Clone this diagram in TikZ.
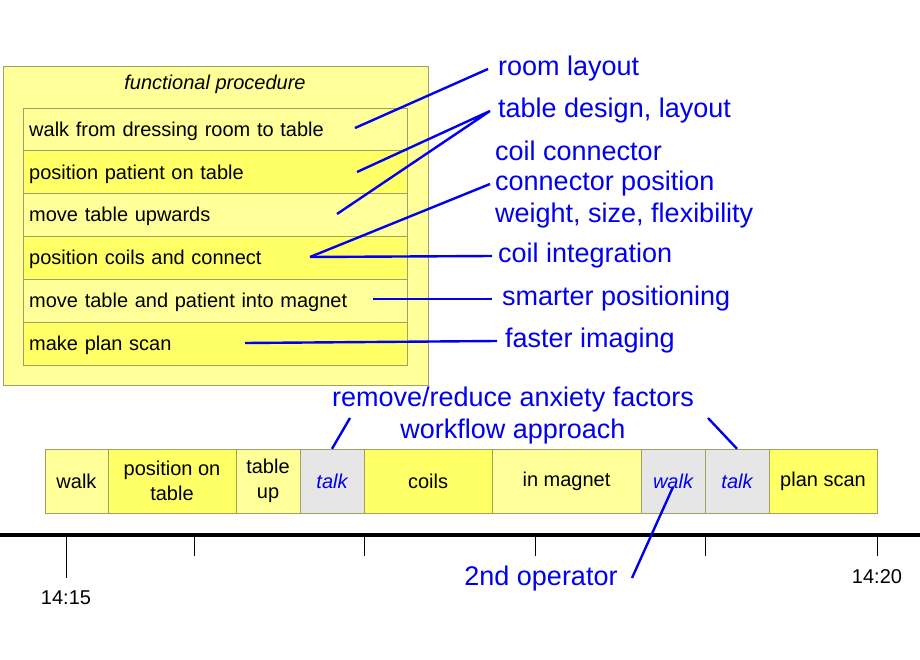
\documentclass[tikz,border=0pt]{standalone}
\usepackage{fontspec}
\setmainfont{Liberation Sans}
\definecolor{lyel}{HTML}{FFFF99}
\definecolor{dyel}{HTML}{FFFF66}
\definecolor{tgray}{HTML}{E6E6E6}
\definecolor{bord}{HTML}{A0A060}
\definecolor{note}{HTML}{0000EE}
\begin{document}
\begin{tikzpicture}[x=1pt,y=-1pt,
    task/.style={draw=bord, anchor=north west, minimum height=43pt, text width=384pt, inner sep=0pt, align=left, font=\fontsize{20}{23}\selectfont, text depth=0pt},
    slot/.style={draw=bord, minimum height=64pt, inner sep=0pt, align=center, font=\fontsize{20}{25}\selectfont},
    rem/.style={text=note, anchor=west, inner sep=0pt, font=\fontsize{27}{30}\selectfont},
    link/.style={note, line width=2.4pt}]
  \useasboundingbox (0,0) rectangle (920,660);
  % functional procedure
  \draw[bord, fill=lyel] (3,66) rectangle (428,385);
  \node[font=\fontsize{20}{23}\selectfont\itshape] (title) at (215,84) {functional procedure};
  \node[task, fill=lyel] (s1) at (23,108) {\hspace*{6pt}walk from dressing room to table};
  \node[task, fill=dyel] (s2) at (23,150.5) {\hspace*{6pt}position patient on table};
  \node[task, fill=lyel] (s3) at (23,193) {\hspace*{6pt}move table upwards};
  \node[task, fill=dyel] (s4) at (23,236) {\hspace*{6pt}position coils and connect};
  \node[task, fill=lyel] (s5) at (23,279) {\hspace*{6pt}move table and patient into magnet};
  \node[task, fill=dyel] (s6) at (23,321.5) {\hspace*{6pt}make plan scan};
  % remarks
  \node[rem] (r1) at (498,69) {room layout};
  \node[rem] (r2) at (498,111) {table design, layout};
  \node[rem] (r3) at (495,151) {coil connector};
  \node[rem] (r4) at (495,184) {connector position};
  \node[rem] (r5) at (495,216) {weight, size, flexibility};
  \node[rem] (r6) at (498,256) {coil integration};
  \node[rem] (r7) at (502,299) {smarter positioning};
  \node[rem] (r8) at (505,341) {faster imaging};
  \coordinate (p1) at (355,128);
  \coordinate (p2) at (357,172);
  \coordinate (p3) at (337,214);
  \coordinate (p4) at (310,257);
  \coordinate (p5) at (373,299);
  \coordinate (p6) at (245,343);
  \draw[link] (p1) -- ([xshift=-10pt]r1.west);
  \draw[link] (p2) -- ([xshift=-8pt]r2.west) -- (p3);
  \draw[link] (p4) -- ([xshift=-5pt]r4.west);
  \draw[link] (p4) -- ([xshift=-6pt]r6.west);
  \draw[link] (p5) -- ([xshift=-10pt]r7.west);
  \draw[link] (p6) -- ([xshift=-8pt]r8.west);
  % timeline
  \foreach \name/\a/\b/\col/\txt in {t1/45/108/lyel/walk, t2/108/236/dyel/{position on\\table}, t3/236/300/lyel/{table\\up}, t4/300/364/tgray/{\color{note}\itshape talk}, t5/364/492/dyel/coils, t6/492/641/lyel/in magnet, t7/641/705/tgray/{\color{note}\itshape walk}, t8/705/769/tgray/{\color{note}\itshape talk}, t9/769/877/dyel/plan scan}
    \node[slot, fill=\col, minimum width=\b-\a] (\name) at ({(\a+\b)/2},481) {\txt};
  \draw[line width=3.5pt] (0,535) -- (920,535);
  \foreach \x/\l in {66/43, 194/21, 364/21, 535/21, 705/21, 877/21}
    \draw[thick] (\x,535) -- ++(0,\l);
  \node[font=\fontsize{20}{23}\selectfont] (h1) at (66,598) {14:15};
  \node[font=\fontsize{20}{23}\selectfont] (h2) at (877,577) {14:20};
  \node[rem, anchor=center] (a1) at (513,400) {remove/reduce anxiety factors};
  \node[rem, anchor=center] (a2) at (513,432) {workflow approach};
  \node[rem, anchor=center] (op) at (541,579) {2nd operator};
  \coordinate (q1) at (350,418);
  \coordinate (q2) at (708,418);
  \coordinate (q3) at (632,578);
  \draw[link] (q1) -- (t4.north);
  \draw[link] (q2) -- (t8.north);
  \draw[link] (q3) -- ([yshift=-6pt]t7.center);
\end{tikzpicture}
\end{document}
